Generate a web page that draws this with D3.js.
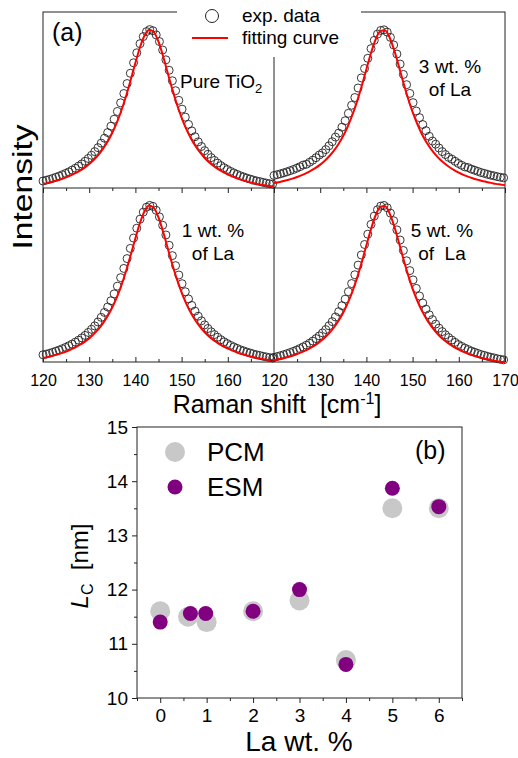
<!DOCTYPE html>
<html>
<head>
<meta charset="utf-8">
<script src="https://cdn.jsdelivr.net/npm/d3@7"></script>
<style>
  body { margin: 0; background: #fff; }
  svg { display: block; font-family: "Liberation Sans", Arial, sans-serif; }
</style>
</head>
<body>
<svg id="chart" width="518" height="758"></svg>
<script>
// Raman shift grid of the measured spectra and of the fitted curves (cm-1)
var shiftExp = [120, 120.7, 121.4, 122.1, 122.8, 123.5, 124.2, 124.9, 125.6, 126.3,
  127, 127.7, 128.4, 129.1, 129.8, 130.5, 131.2, 131.9, 132.6, 133.3,
  134, 134.7, 135.4, 136.1, 136.8, 137.5, 138.2, 138.9, 139.6, 140.3,
  141, 141.7, 142.4, 143.1, 143.8, 144.5, 145.2, 145.9, 146.6, 147.3,
  148, 148.7, 149.4, 150.1, 150.8, 151.5, 152.2, 152.9, 153.6, 154.3,
  155, 155.7, 156.4, 157.1, 157.8, 158.5, 159.2, 159.9, 160.6, 161.3,
  162, 162.7, 163.4, 164.1, 164.8, 165.5, 166.2, 166.9, 167.6, 168.3,
  169, 169.7];
var shiftFit = [120, 121, 122, 123, 124, 125, 126, 127, 128, 129,
  130, 131, 132, 133, 134, 135, 136, 137, 138, 139,
  140, 141, 142, 143, 144, 145, 146, 147, 148, 149,
  150, 151, 152, 153, 154, 155, 156, 157, 158, 159,
  160, 161, 162, 163, 164, 165, 166, 167, 168, 169, 170];

// normalised intensity, exp. data
var pureExp = [0.088, 0.093, 0.098, 0.104, 0.111, 0.118, 0.126, 0.134, 0.143, 0.154,
  0.165, 0.178, 0.191, 0.207, 0.224, 0.243, 0.265, 0.289, 0.316, 0.346,
  0.380, 0.418, 0.460, 0.507, 0.559, 0.615, 0.675, 0.737, 0.800, 0.860,
  0.915, 0.958, 0.988, 1.000, 0.993, 0.968, 0.928, 0.877, 0.818, 0.755,
  0.692, 0.632, 0.574, 0.521, 0.473, 0.429, 0.390, 0.355, 0.324, 0.296,
  0.271, 0.249, 0.229, 0.212, 0.196, 0.181, 0.168, 0.157, 0.146, 0.137,
  0.128, 0.120, 0.113, 0.106, 0.100, 0.094, 0.089, 0.085, 0.080, 0.076,
  0.072, 0.069];
var la1Exp = [0.090, 0.094, 0.099, 0.105, 0.112, 0.119, 0.127, 0.135, 0.145, 0.155,
  0.167, 0.179, 0.193, 0.208, 0.226, 0.245, 0.266, 0.290, 0.318, 0.348,
  0.381, 0.419, 0.461, 0.508, 0.560, 0.616, 0.676, 0.738, 0.801, 0.861,
  0.916, 0.959, 0.989, 1.000, 0.994, 0.970, 0.930, 0.879, 0.820, 0.757,
  0.694, 0.633, 0.576, 0.523, 0.474, 0.430, 0.391, 0.356, 0.325, 0.297,
  0.272, 0.250, 0.230, 0.213, 0.197, 0.182, 0.169, 0.158, 0.147, 0.138,
  0.129, 0.121, 0.114, 0.107, 0.101, 0.095, 0.090, 0.086, 0.081, 0.077,
  0.073, 0.070];
var la3Exp = [0.115, 0.120, 0.125, 0.131, 0.137, 0.144, 0.151, 0.159, 0.168, 0.178,
  0.183, 0.195, 0.208, 0.223, 0.239, 0.252, 0.272, 0.295, 0.320, 0.348,
  0.372, 0.408, 0.447, 0.492, 0.541, 0.588, 0.646, 0.707, 0.764, 0.826,
  0.885, 0.935, 0.973, 0.995, 0.999, 0.985, 0.953, 0.907, 0.852, 0.791,
  0.728, 0.666, 0.613, 0.557, 0.506, 0.466, 0.424, 0.387, 0.353, 0.324,
  0.305, 0.282, 0.260, 0.242, 0.225, 0.214, 0.201, 0.188, 0.177, 0.167,
  0.163, 0.154, 0.147, 0.140, 0.133, 0.128, 0.122, 0.117, 0.113, 0.108,
  0.104, 0.101];
var la5Exp = [0.086, 0.091, 0.096, 0.102, 0.108, 0.115, 0.122, 0.130, 0.139, 0.149,
  0.159, 0.171, 0.184, 0.199, 0.215, 0.233, 0.253, 0.276, 0.301, 0.329,
  0.361, 0.397, 0.436, 0.481, 0.530, 0.583, 0.641, 0.702, 0.765, 0.827,
  0.886, 0.936, 0.974, 0.996, 1.000, 0.986, 0.954, 0.908, 0.853, 0.792,
  0.729, 0.667, 0.608, 0.552, 0.501, 0.455, 0.413, 0.376, 0.342, 0.313,
  0.286, 0.262, 0.241, 0.222, 0.205, 0.190, 0.176, 0.163, 0.152, 0.142,
  0.133, 0.124, 0.117, 0.110, 0.103, 0.098, 0.092, 0.087, 0.083, 0.078,
  0.074, 0.071];

// fitting curves
var pureFit = [0.071, 0.077, 0.084, 0.091, 0.100, 0.110, 0.122, 0.135, 0.151, 0.169,
  0.190, 0.216, 0.246, 0.283, 0.326, 0.379, 0.441, 0.516, 0.602, 0.699,
  0.800, 0.894, 0.966, 0.999, 0.985, 0.927, 0.839, 0.739, 0.640, 0.549,
  0.470, 0.402, 0.346, 0.299, 0.260, 0.227, 0.200, 0.177, 0.158, 0.141,
  0.127, 0.115, 0.104, 0.095, 0.087, 0.079, 0.073, 0.067, 0.062, 0.058, 0.054];
var la1Fit = [0.071, 0.077, 0.084, 0.091, 0.100, 0.110, 0.122, 0.135, 0.151, 0.169,
  0.190, 0.216, 0.246, 0.283, 0.326, 0.379, 0.441, 0.516, 0.602, 0.699,
  0.800, 0.894, 0.966, 0.999, 0.985, 0.927, 0.839, 0.739, 0.640, 0.549,
  0.470, 0.402, 0.346, 0.299, 0.260, 0.227, 0.200, 0.177, 0.158, 0.141,
  0.127, 0.115, 0.104, 0.095, 0.087, 0.079, 0.073, 0.067, 0.062, 0.058, 0.054];
var la3Fit = [0.069, 0.074, 0.081, 0.088, 0.096, 0.106, 0.117, 0.129, 0.144, 0.161,
  0.181, 0.205, 0.233, 0.267, 0.308, 0.356, 0.415, 0.485, 0.566, 0.659,
  0.760, 0.858, 0.941, 0.991, 0.996, 0.954, 0.877, 0.780, 0.679, 0.584,
  0.500, 0.428, 0.367, 0.317, 0.275, 0.240, 0.210, 0.186, 0.165, 0.147,
  0.132, 0.119, 0.108, 0.098, 0.090, 0.082, 0.076, 0.070, 0.064, 0.060, 0.056];
var la5Fit = [0.069, 0.074, 0.081, 0.088, 0.096, 0.106, 0.117, 0.129, 0.144, 0.161,
  0.181, 0.205, 0.233, 0.267, 0.308, 0.356, 0.415, 0.485, 0.566, 0.659,
  0.760, 0.858, 0.941, 0.991, 0.996, 0.954, 0.877, 0.780, 0.679, 0.584,
  0.500, 0.428, 0.367, 0.317, 0.275, 0.240, 0.210, 0.186, 0.165, 0.147,
  0.132, 0.119, 0.108, 0.098, 0.090, 0.082, 0.076, 0.070, 0.064, 0.060, 0.056];

var ramanTicksLeft = [120, 130, 140, 150, 160];
var ramanTicksRight = [120, 130, 140, 150, 160, 170];
var ramanMinor = [125, 135, 145, 155, 165];

// panel (b): crystallite size
var laPCM = [0, 0.6, 1, 2, 3, 4, 5, 6];
var lcPCM = [11.6, 11.5, 11.4, 11.6, 11.8, 10.7, 13.5, 13.5];
var laESM = [0, 0.65, 0.98, 2, 3, 4, 5, 6];
var lcESM = [11.4, 11.56, 11.56, 11.6, 12.0, 10.62, 13.87, 13.53];
var lcTicks = [10, 11, 12, 13, 14, 15];
var laTicks = [0, 1, 2, 3, 4, 5, 6];

var svg = d3.select("#chart");
var ink = "#222";
var fitColor = "#ff0000";

var a = { left: 43, mid: 274, right: 505, top: 12, split: 188, bottom: 362 };

var panels = [
  { exp: pureExp, fit: pureFit, col: 0, row: 0, dom: [0.046, 1.106] },
  { exp: la3Exp, fit: la3Fit, col: 1, row: 0, dom: [0.039, 1.107] },
  { exp: la1Exp, fit: la1Fit, col: 0, row: 1, dom: [0.046, 1.106] },
  { exp: la5Exp, fit: la5Fit, col: 1, row: 1, dom: [0.058, 1.105] }
];

function panelX(col) {
  return d3.scaleLinear().domain([120, 170])
    .range(col === 0 ? [a.left, a.mid] : [a.mid, a.right]);
}
function panelY(row, dom) {
  return d3.scaleLinear().domain(dom)
    .range(row === 0 ? [a.split, a.top] : [a.bottom, a.split]);
}

function styleAxis(g, size) {
  g.attr("font-family", null).attr("font-size", null);
  g.select(".domain").remove();
  g.selectAll(".tick line").attr("stroke", ink);
  g.selectAll("text").attr("fill", "#000").style("font-size", size + "px");
}

// ---- panel (a) frame
svg.append("rect")
  .attr("x", a.left).attr("y", a.top)
  .attr("width", a.right - a.left).attr("height", a.bottom - a.top)
  .attr("fill", "none").attr("stroke", ink);
svg.append("line")
  .attr("x1", a.left).attr("x2", a.right)
  .attr("y1", a.split).attr("y2", a.split)
  .attr("stroke", ink);
svg.append("line")
  .attr("x1", a.mid).attr("x2", a.mid)
  .attr("y1", a.top).attr("y2", a.bottom)
  .attr("stroke", ink);

[0, 1].forEach(function (col) {
  var x = panelX(col);
  var major = col === 0 ? ramanTicksLeft : ramanTicksRight;
  svg.append("g")
    .attr("transform", "translate(0," + a.bottom + ")")
    .call(d3.axisBottom(x).tickValues(major).tickSize(-5).tickPadding(12.5).tickFormat(d3.format("d")))
    .call(styleAxis, 16);
  svg.append("g")
    .attr("transform", "translate(0," + a.bottom + ")")
    .call(d3.axisBottom(x).tickValues(ramanMinor).tickSize(-3).tickFormat(""))
    .call(styleAxis, 16);
  // ticks on the divider between rows
  svg.append("g")
    .attr("transform", "translate(0," + a.split + ")")
    .call(d3.axisBottom(x).tickValues(ramanTicksRight).tickSize(5).tickFormat(""))
    .call(styleAxis, 16);
  svg.append("g")
    .attr("transform", "translate(0," + a.split + ")")
    .call(d3.axisBottom(x).tickValues(ramanMinor).tickSize(3).tickFormat(""))
    .call(styleAxis, 16);
});

// legend box breaks the top frame
svg.append("rect")
  .attr("x", 177).attr("y", 0).attr("width", 184).attr("height", 57)
  .attr("fill", "#fff");

panels.forEach(function (p) {
  var x = panelX(p.col);
  var y = panelY(p.row, p.dom);
  var g = svg.append("g");
  g.selectAll("circle")
    .data(p.exp)
    .enter()
    .append("circle")
    .attr("cx", function (d, i) { return x(shiftExp[i]); })
    .attr("cy", function (d) { return y(d); })
    .attr("r", 4)
    .attr("fill", "none")
    .attr("stroke", ink)
    .attr("stroke-width", 0.9);
  var line = d3.line()
    .x(function (d, i) { return x(shiftFit[i]); })
    .y(function (d) { return y(d); })
    .curve(d3.curveMonotoneX);
  g.append("path")
    .attr("d", line(p.fit))
    .attr("fill", "none")
    .attr("stroke", fitColor)
    .attr("stroke-width", 2);
});

// legend (a)
svg.append("circle").attr("cx", 212).attr("cy", 16).attr("r", 6.5)
  .attr("fill", "none").attr("stroke", ink);
svg.append("line").attr("x1", 192).attr("x2", 228).attr("y1", 38).attr("y2", 38)
  .attr("stroke", fitColor).attr("stroke-width", 2);
svg.append("text").attr("x", 242).attr("y", 22).style("font-size", "19px").text("exp. data");
svg.append("text").attr("x", 242).attr("y", 44).style("font-size", "19px").text("fitting curve");

svg.append("text").attr("x", 52).attr("y", 41).style("font-size", "25px").text("(a)");

var pure = svg.append("text").attr("x", 180).attr("y", 88).style("font-size", "19px");
pure.append("tspan").text("Pure TiO");
pure.append("tspan").attr("dy", 5).style("font-size", "13px").text("2");

function twoLine(cx, y1, t1, t2) {
  svg.append("text").attr("x", cx).attr("y", y1).attr("text-anchor", "middle")
    .style("font-size", "19px").style("white-space", "pre").text(t1);
  svg.append("text").attr("x", cx).attr("y", y1 + 23).attr("text-anchor", "middle")
    .style("font-size", "19px").style("white-space", "pre").text(t2);
}
twoLine(450, 73, "3 wt. %", "of La");
twoLine(213, 237, "1 wt. %", "of La");
twoLine(442, 237, "5 wt. %", "of  La");

var xt = svg.append("text").attr("x", 277).attr("y", 413).attr("text-anchor", "middle")
  .style("font-size", "25px").style("white-space", "pre");
xt.append("tspan").text("Raman shift  [cm");
xt.append("tspan").attr("dy", -9).style("font-size", "16px").text("-1");
xt.append("tspan").attr("dy", 9).text("]");

svg.append("text")
  .attr("transform", "translate(32," + (a.top + a.bottom) / 2 + ") rotate(-90) scale(1.2,1)")
  .attr("text-anchor", "middle")
  .style("font-size", "28px")
  .text("Intensity");

// ---- panel (b)
var bx = d3.scaleLinear().domain([-0.5, 6.5]).range([137, 462]);
var by = d3.scaleLinear().domain([10, 15]).range([698, 427]);

svg.append("rect").attr("x", 137).attr("y", 427).attr("width", 325).attr("height", 271)
  .attr("fill", "none").attr("stroke", ink);

svg.append("g").attr("transform", "translate(0,698)")
  .call(d3.axisBottom(bx).tickValues(laTicks).tickSize(5).tickPadding(6).tickFormat(d3.format("d")))
  .call(styleAxis, 19);
svg.append("g").attr("transform", "translate(0,698)")
  .call(d3.axisBottom(bx).tickValues([-0.5, 0.5, 1.5, 2.5, 3.5, 4.5, 5.5, 6.5]).tickSize(3).tickFormat(""))
  .call(styleAxis, 19);
svg.append("g").attr("transform", "translate(137,0)")
  .call(d3.axisLeft(by).tickValues(lcTicks).tickSize(5).tickPadding(4).tickFormat(d3.format("d")))
  .call(styleAxis, 19);
svg.append("g").attr("transform", "translate(137,0)")
  .call(d3.axisLeft(by).tickValues([10.5, 11.5, 12.5, 13.5, 14.5]).tickSize(3).tickFormat(""))
  .call(styleAxis, 19);

svg.append("g").selectAll("circle")
  .data(lcPCM)
  .enter()
  .append("circle")
  .attr("cx", function (d, i) { return bx(laPCM[i]); })
  .attr("cy", function (d) { return by(d); })
  .attr("r", 10)
  .attr("fill", "#c8c8c8");
svg.append("g").selectAll("circle")
  .data(lcESM)
  .enter()
  .append("circle")
  .attr("cx", function (d, i) { return bx(laESM[i]); })
  .attr("cy", function (d) { return by(d); })
  .attr("r", 7.5)
  .attr("fill", "#800080");

svg.append("circle").attr("cx", 175).attr("cy", 452).attr("r", 10).attr("fill", "#c8c8c8");
svg.append("circle").attr("cx", 175).attr("cy", 487).attr("r", 7.5).attr("fill", "#800080");
svg.append("text").attr("x", 207).attr("y", 461).style("font-size", "26px").text("PCM");
svg.append("text").attr("x", 207).attr("y", 496).style("font-size", "26px").text("ESM");
svg.append("text").attr("x", 415).attr("y", 459).style("font-size", "25px").text("(b)");

var yt = svg.append("text")
  .attr("transform", "translate(88,566) rotate(-90)")
  .attr("text-anchor", "middle")
  .style("font-size", "24px")
  .style("white-space", "pre");
yt.append("tspan").style("font-style", "italic").text("L");
yt.append("tspan").attr("dy", 5).style("font-size", "16px").text("C");
yt.append("tspan").attr("dy", -5).text("  [nm]");

svg.append("text").attr("x", 299).attr("y", 751).attr("text-anchor", "middle")
  .style("font-size", "28px").text("La wt. %");
</script>
</body>
</html>
